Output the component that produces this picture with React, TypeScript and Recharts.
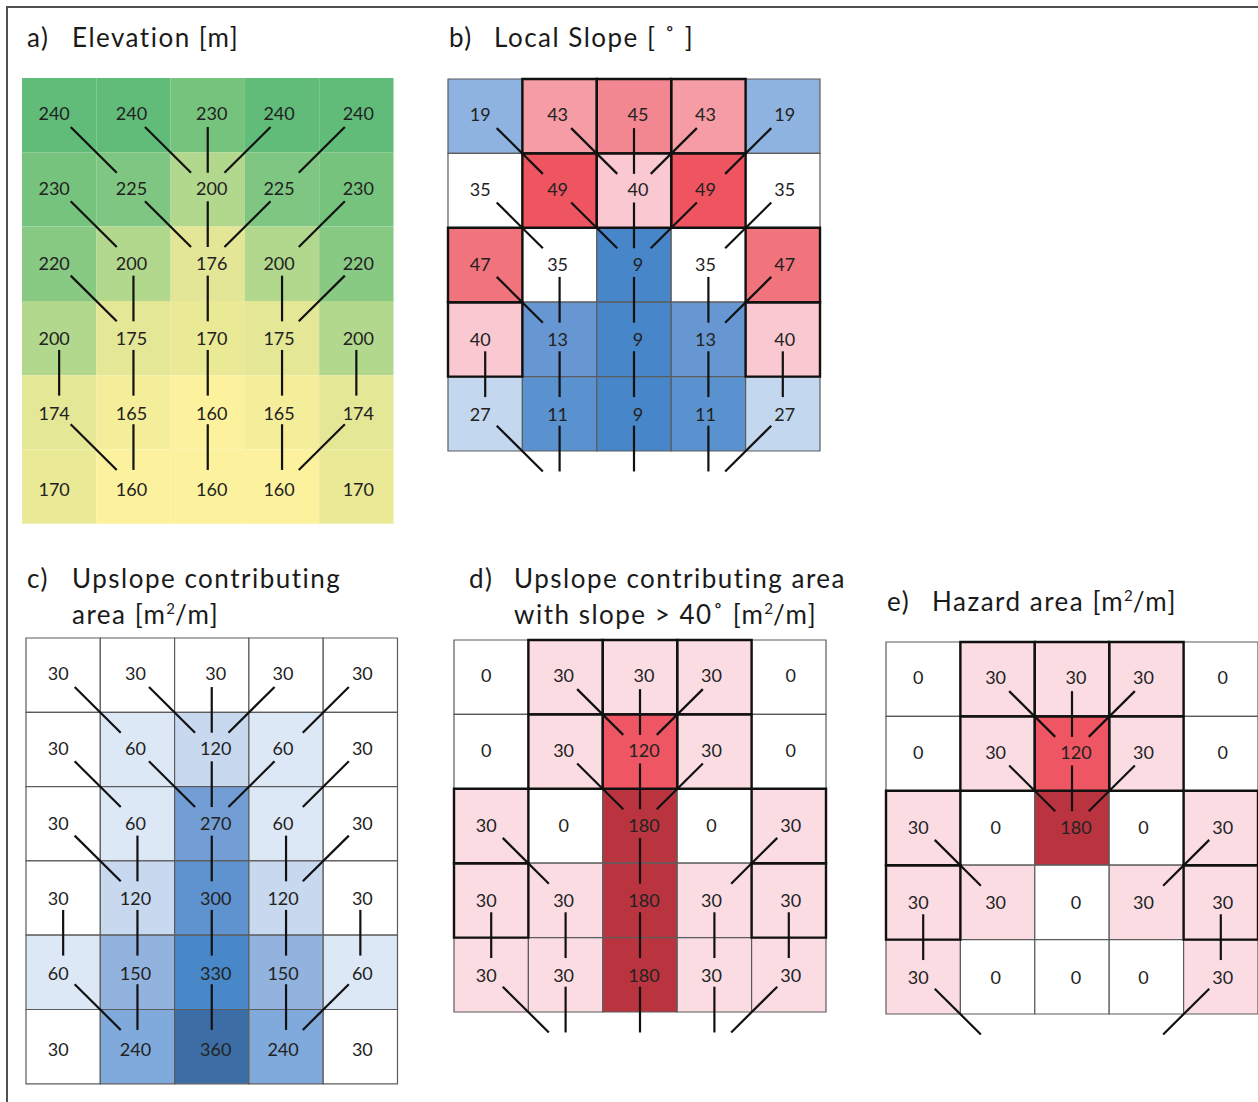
import React from 'react';
import { ComposedChart, ReferenceArea, ReferenceLine, XAxis, YAxis } from 'recharts';

// grid values, row by row (top row first)
const ELEVATION = [
  [240, 240, 230, 240, 240],
  [230, 225, 200, 225, 230],
  [220, 200, 176, 200, 220],
  [200, 175, 170, 175, 200],
  [174, 165, 160, 165, 174],
  [170, 160, 160, 160, 170],
];

const SLOPE = [
  [19, 43, 45, 43, 19],
  [35, 49, 40, 49, 35],
  [47, 35, 9, 35, 47],
  [40, 13, 9, 13, 40],
  [27, 11, 9, 11, 27],
];

const UPSLOPE = [
  [30, 30, 30, 30, 30],
  [30, 60, 120, 60, 30],
  [30, 60, 270, 60, 30],
  [30, 120, 300, 120, 30],
  [60, 150, 330, 150, 60],
  [30, 240, 360, 240, 30],
];

const STEEP_UPSLOPE = [
  [0, 30, 30, 30, 0],
  [0, 30, 120, 30, 0],
  [30, 0, 180, 0, 30],
  [30, 30, 180, 30, 30],
  [30, 30, 180, 30, 30],
];

const HAZARD = [
  [0, 30, 30, 30, 0],
  [0, 30, 120, 30, 0],
  [30, 0, 180, 0, 30],
  [30, 30, 0, 30, 30],
  [30, 0, 0, 0, 30],
];

// flow direction to the cell below: -1 down-left, 0 straight down, 1 down-right
const FLOW_DIR = [
  [1, 1, 0, -1, -1],
  [1, 1, 0, -1, -1],
  [1, 0, 0, 0, -1],
  [0, 0, 0, 0, 0],
  [1, 0, 0, 0, -1],
];

// cells with slope >= 40 (outlined)
const STEEP_CELLS = [
  [0, 1, 1, 1, 0],
  [0, 1, 1, 1, 0],
  [1, 0, 0, 0, 1],
  [1, 0, 0, 0, 1],
  [0, 0, 0, 0, 0],
];

const HAZARD_FLOW = [
  [0, 1, 1, 1, 0],
  [0, 1, 1, 1, 0],
  [1, 0, 0, 0, 1],
  [1, 0, 0, 0, 1],
  [1, 0, 0, 0, 1],
];

type Stop = [number, string];

const ELEV_COLORS: Stop[] = [
  [160, '#fcf19c'], [165, '#f4ed9a'], [170, '#e9e996'], [176, '#e2e696'],
  [200, '#b1d88c'], [220, '#88c983'], [225, '#7ec681'], [230, '#76c37e'], [240, '#61bc7a'],
];
const SLOPE_COLORS: Stop[] = [
  [9, '#4786c8'], [11, '#5a91cf'], [13, '#6797d2'], [19, '#8fb3e0'], [27, '#c3d7ef'],
  [35, '#ffffff'], [40, '#f9c8d0'], [43, '#f59ca5'], [45, '#f28791'], [47, '#f1737c'], [49, '#ef5561'],
];
const AREA_COLORS: Stop[] = [
  [30, '#ffffff'], [60, '#dde8f6'], [120, '#c8d9ef'], [150, '#93b3df'], [240, '#80a9dc'],
  [270, '#729ed5'], [300, '#5f93d0'], [330, '#4888c9'], [360, '#3c6ea5'],
];
const HAZARD_COLORS: Stop[] = [
  [0, '#ffffff'], [30, '#fadce2'], [120, '#ef5663'], [180, '#b9343f'],
];

function hex(c: string) {
  return [1, 3, 5].map((i) => parseInt(c.slice(i, i + 2), 16));
}

function colorFor(stops: Stop[], v: number) {
  if (v <= stops[0][0]) return stops[0][1];
  for (let i = 1; i < stops.length; i++) {
    const [v1, c1] = stops[i];
    if (v <= v1) {
      const [v0, c0] = stops[i - 1];
      const t = (v - v0) / (v1 - v0);
      const a = hex(c0);
      const b = hex(c1);
      const m = a.map((x, k) => Math.round(x + (b[k] - x) * t));
      return `rgb(${m[0]},${m[1]},${m[2]})`;
    }
  }
  return stops[stops.length - 1][1];
}

const FONT = 'Lato, "Open Sans", sans-serif';
const PAD = 3;
// the numbers sit a little off-centre in the original figure
const LABEL_DX = [-5, -2, 4, -3, 2];
const LABEL_DY = [-2, -1.2, -0.5, 0.3, 1, 3];

type PanelProps = {
  values: number[][];
  stops: Stop[];
  flowMask: (r: number, c: number) => boolean;
  thick?: number[][];
  borders: boolean;
  yMax: number;
  left: number;
  top: number;
  cell: number;
};

function GridPanel(props: PanelProps) {
  const { values, stops, flowMask, thick, borders, yMax, left, top, cell } = props;
  const cols = values[0].length;
  const width = cols * cell + PAD * 2;
  const height = yMax * cell + PAD * 2;

  const cells = values.flatMap((row, r) => row.map((v, c) => ({ r, c, v })));
  const segs = cells
    .filter(({ r, c }) => r < FLOW_DIR.length && flowMask(r, c))
    .map(({ r, c }) => {
      const dx = FLOW_DIR[r][c];
      return {
        key: `${r}-${c}`,
        p: [
          { x: c + 0.5 + 0.155 * dx, y: r + 0.5 + 0.16 },
          { x: c + 0.5 + dx - 0.225 * dx, y: r + 1.5 - 0.225 },
        ],
      };
    });

  return (
    <div style={{ position: 'absolute', left: left - PAD, top: top - PAD }}>
      <ComposedChart width={width} height={height} margin={{ top: PAD, right: PAD, bottom: PAD, left: PAD }}>
        <XAxis type="number" dataKey="x" domain={[0, cols]} hide allowDataOverflow />
        <YAxis type="number" dataKey="y" domain={[0, yMax]} reversed hide allowDataOverflow />
        {cells.map(({ r, c, v }) => (
          <ReferenceArea
            key={`cell-${r}-${c}`}
            x1={c}
            x2={c + 1}
            y1={r}
            y2={r + 1}
            fill={colorFor(stops, v)}
            fillOpacity={1}
            stroke={borders ? '#5c5c5c' : 'none'}
            strokeWidth={1.2}
            ifOverflow="visible"
            label={{
              value: String(v),
              position: 'center',
              fill: '#222',
              fontSize: 18,
              fontFamily: FONT,
              dx: LABEL_DX[c],
              dy: LABEL_DY[r],
            }}
          />
        ))}
        {thick &&
          cells
            .filter(({ r, c }) => thick[r] && thick[r][c])
            .map(({ r, c }) => (
              <ReferenceArea
                key={`thick-${r}-${c}`}
                x1={c}
                x2={c + 1}
                y1={r}
                y2={r + 1}
                fill="none"
                fillOpacity={0}
                stroke="#111"
                strokeWidth={2.4}
                ifOverflow="visible"
              />
            ))}
        {segs.map((s) => (
          <ReferenceLine key={`flow-${s.key}`} segment={s.p} stroke="#111" strokeWidth={2.2} ifOverflow="visible" />
        ))}
      </ComposedChart>
    </div>
  );
}

function Title(props: { tag: string; lines: React.ReactNode[]; left: number; top: number }) {
  const { tag, lines, left, top } = props;
  return (
    <div
      style={{
        position: 'absolute',
        left,
        top,
        fontFamily: FONT,
        fontSize: 26,
        letterSpacing: 1.5,
        color: '#1a1a1a',
        lineHeight: '36px',
      }}
    >
      <span style={{ position: 'absolute', left: 0, top: 0, whiteSpace: 'nowrap' }}>{tag}</span>
      {lines.map((l, i) => (
        <div key={i} style={{ position: 'absolute', left: 45, top: i * 36, whiteSpace: 'nowrap' }}>
          {l}
        </div>
      ))}
    </div>
  );
}

const sq = <span style={{ fontSize: 15, position: 'relative', top: -10, letterSpacing: 0 }}>2</span>;

export default function App() {
  return (
    <div style={{ position: 'absolute', left: 0, top: 0, width: 1258, height: 1102, background: '#fff', overflow: 'hidden' }}>
      <div style={{ position: 'absolute', left: 6, top: 6, width: 1252, height: 2, background: '#505050' }} />
      <div style={{ position: 'absolute', left: 6, top: 6, width: 2, height: 1096, background: '#505050' }} />

      <Title tag="a)" lines={['Elevation [m]']} left={27} top={19} />
      <Title tag="b)" lines={['Local Slope [ ˚ ]']} left={449} top={19} />
      <Title tag="c)" lines={['Upslope contributing', <>area [m{sq}/m]</>]} left={27} top={560} />
      <Title tag="d)" lines={['Upslope contributing area', <>with slope &gt; 40˚ [m{sq}/m]</>]} left={469} top={560} />
      <Title tag="e)" lines={[<>Hazard area [m{sq}/m]</>]} left={887} top={583} />

      <GridPanel values={ELEVATION} stops={ELEV_COLORS} flowMask={(r) => r < 5} borders={false} yMax={6} left={22} top={77.5} cell={74.3} />
      <GridPanel
        values={SLOPE}
        stops={SLOPE_COLORS}
        flowMask={() => true}
        thick={STEEP_CELLS}
        borders
        yMax={6.3}
        left={447.5}
        top={79}
        cell={74.4}
      />
      <GridPanel values={UPSLOPE} stops={AREA_COLORS} flowMask={(r) => r < 5} borders yMax={6} left={26} top={638} cell={74.3} />
      <GridPanel
        values={STEEP_UPSLOPE}
        stops={HAZARD_COLORS}
        flowMask={(r, c) => STEEP_UPSLOPE[r][c] > 0}
        thick={STEEP_CELLS}
        borders
        yMax={6.3}
        left={453.5}
        top={640}
        cell={74.4}
      />
      <GridPanel
        values={HAZARD}
        stops={HAZARD_COLORS}
        flowMask={(r, c) => HAZARD_FLOW[r][c] === 1}
        thick={STEEP_CELLS}
        borders
        yMax={6.3}
        left={886}
        top={641.5}
        cell={74.4}
      />
    </div>
  );
}
